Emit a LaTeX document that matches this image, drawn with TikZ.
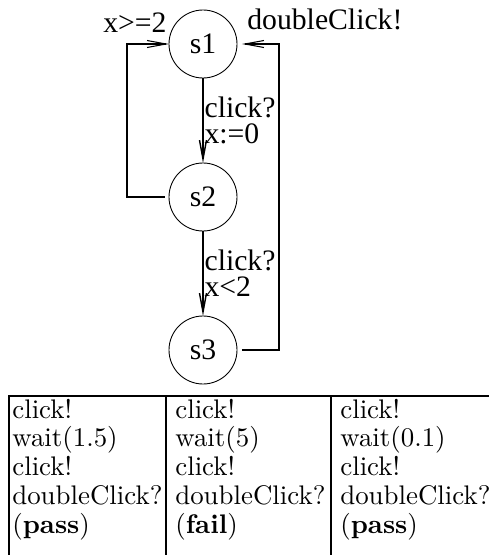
\documentclass[tikz,border=0pt]{standalone}
\usepackage{fontspec}
\usepackage{tikz}
\usetikzlibrary{arrows.meta}
\newfontfamily\timesfont{Liberation Serif}
\newfontfamily\runfont{lmroman10-regular.otf}[BoldFont=lmroman10-bold.otf]

\begin{document}
\begin{tikzpicture}[
    state/.style={draw, circle, line width=0.5pt, minimum size=1.36cm, inner sep=0pt, outer sep=0pt, font=\timesfont\fontsize{16.9}{14.8}\selectfont},
    trans/.style={draw, line width=0.8pt, -{Straight Barb[length=3.8mm, width=1.4mm]}},
    guard/.style={font=\timesfont\fontsize{16.9}{14.8}\selectfont, align=left, inner sep=0.5pt},
    run/.style={anchor=base west, text width=3cm, align=left, inner sep=0pt, font=\runfont\fontsize{15.3}{16.4}\selectfont},
    rule/.style={line width=1pt}]
  \useasboundingbox (0,0) rectangle (9.78,11.1);
  \node[state] (s1) at (4.06,10.22) {s1};
  \node[state] (s2) at (4.06,7.16) {s2};
  \node[state] (s3) at (4.06,4.10) {s3};
  \draw[trans] (s1) -- node[guard, right] {click?\\x:=0} (s2);
  \draw[trans] (s2) -- node[guard, right] {click?\\x<2} (s3);
  \draw[trans, line width=0.6pt, shorten <=0.08cm] (s2.west) -- ++(-0.84,0) |- (s1.west);
  \draw[trans, line width=0.6pt, shorten <=0.1cm, shorten >=0.1cm] (s3.east) -- ++(0.84,0) |- (s1.east);
  \node[guard, anchor=base west, inner sep=0pt] (reset) at (2.06,10.46) {x>=2};
  \node[guard, anchor=base west, inner sep=0pt] (emit) at (4.94,10.5) {doubleClick!};
  % test runs
  \draw[rule] (0.18,0) -- (0.18,3.18) -- (9.78,3.18);
  \foreach \x in {3.32,6.62}
    \draw[rule] (\x,0) -- (\x,3.18);
  \node[run] (run1) at (0.24,2.74) {click!\\wait(1.5)\\click!\\doubleClick?\\(\textbf{pass})};
  \node[run] (run2) at (3.50,2.74) {click!\\wait(5)\\click!\\doubleClick?\\(\textbf{fail})};
  \node[run] (run3) at (6.80,2.74) {click!\\wait(0.1)\\click!\\doubleClick?\\(\textbf{pass})};
\end{tikzpicture}
\end{document}
